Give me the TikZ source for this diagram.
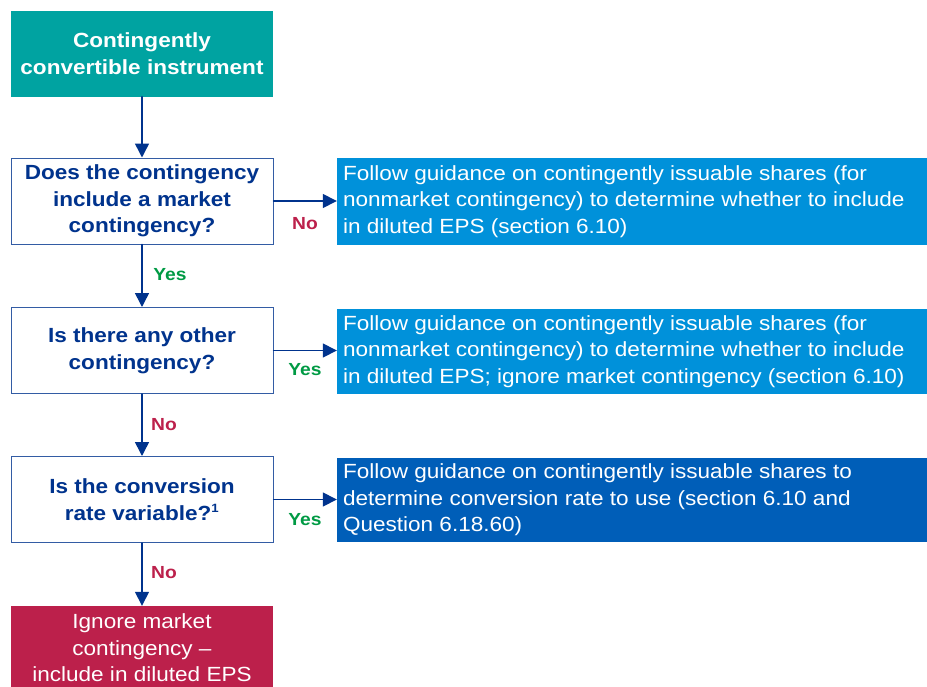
\documentclass[tikz,border=0pt]{standalone}
\usepackage{fontspec}
\setmainfont[FakeStretch=1.10]{Liberation Sans}
\usetikzlibrary{arrows.meta}
\definecolor{kdarkblue}{HTML}{00338D}
\definecolor{kmidblue}{HTML}{005EB8}
\definecolor{klightblue}{HTML}{0091DA}
\definecolor{kteal}{HTML}{00A3A1}
\definecolor{krose}{HTML}{BC204B}
\definecolor{kgreen}{HTML}{009A44}

\begin{document}
\begin{tikzpicture}[x=1pt, y=-1pt, line cap=round,
  box/.style={rectangle, minimum width=262pt, minimum height=86pt, inner sep=3pt,
    align=center, font=\fontsize{20.5}{26.5}\selectfont},
  startbox/.style={box, fill=kteal, text=white, font=\bfseries\fontsize{20.5}{26.5}\selectfont},
  question/.style={box, draw=kdarkblue!80, line width=1pt, fill=white, text=kdarkblue,
    font=\bfseries\fontsize{20.5}{26.5}\selectfont},
  endbox/.style={box, fill=krose, text=white},
  guide/.style={rectangle, minimum width=590pt, text width=578pt, inner sep=6pt,
    align=flush left, text=white, font=\fontsize{20.5}{26.5}\selectfont},
  flow/.style={draw=kdarkblue, line width=1.5pt, -{Triangle[length=14pt,width=14pt]}},
  yes/.style={text=kgreen, font=\bfseries\fontsize{17.5}{20}\selectfont},
  no/.style={text=krose, font=\bfseries\fontsize{17.5}{20}\selectfont}]

  % kader
  \useasboundingbox (0,0) rectangle (927,686);
  \clip (0,0) rectangle (927,686);

  % linker kolom
  \node[startbox] (start) at (142,53.5) {Contingently\\convertible instrument};
  \node[question] (q1) at (142,201) {Does the contingency\\include a market\\contingency?};
  \node[question] (q2) at (142,350.5) {Is there any other\\contingency?};
  \node[question] (q3) at (142,499.5) {Is the conversion\\rate variable?\textsuperscript{\fontsize{12}{12}\selectfont 1}};
  \node[endbox, minimum height=84pt] (ignore) at (142,648) {Ignore market\\contingency --\\include in diluted EPS};

  % rechter kolom
  \node[guide, fill=klightblue, minimum height=87pt] (g1) at (632,201.5)
    {Follow guidance on contingently issuable shares (for\\nonmarket contingency) to determine whether to include\\in diluted EPS (section 6.10)};
  \node[guide, fill=klightblue, minimum height=83pt] (g2) at (632,351.5)
    {Follow guidance on contingently issuable shares (for\\nonmarket contingency) to determine whether to include\\in diluted EPS; ignore market contingency (section 6.10)};
  \node[guide, fill=kmidblue, minimum height=84pt] (g3) at (632,500)
    {Follow guidance on contingently issuable shares to\\determine conversion rate to use (section 6.10 and\\Question 6.18.60)};

  % pijlen
  \draw[flow] (start) -- (q1);
  \draw[flow] (q1) -- (q2);
  \draw[flow] (q2) -- (q3);
  \draw[flow] (q3) -- (ignore);
  \draw[flow] (q1.east) -- (q1.east -| g1.west);
  \draw[flow] (q2.east) -- (q2.east -| g2.west);
  \draw[flow] (q3.east) -- (q3.east -| g3.west);

  % labels
  \node[no]  (lno1)  at (305,224) {No};
  \node[yes] (lyes1) at (170,275) {Yes};
  \node[yes] (lyes2) at (305,370) {Yes};
  \node[no]  (lno2)  at (164,425) {No};
  \node[yes] (lyes3) at (305,520) {Yes};
  \node[no]  (lno3)  at (164,573) {No};
\end{tikzpicture}
\end{document}
